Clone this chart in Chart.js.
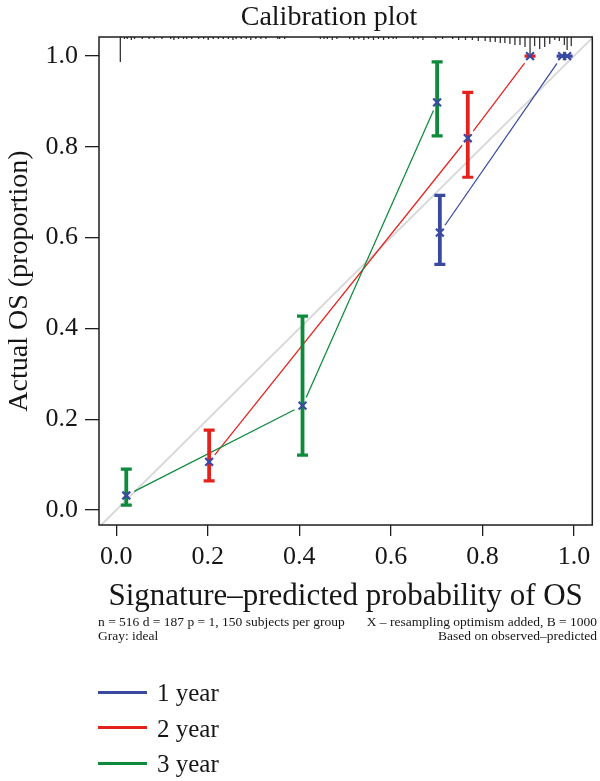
<!DOCTYPE html>
<html>
<head>
<meta charset="utf-8">
<script src="https://cdn.jsdelivr.net/npm/chart.js@4/dist/chart.umd.min.js"></script>
<style>
html,body{margin:0;padding:0;background:#fff;}
#wrap{position:relative;width:600px;height:781px;overflow:hidden;}
#c{position:absolute;left:0;top:0;}
.t{position:absolute;font-family:"Liberation Serif",serif;color:#161616;white-space:nowrap;line-height:1;}
.sw{position:absolute;left:98px;width:49px;height:3px;}
</style>
</head>
<body>
<div id="wrap">
<canvas id="c" width="600" height="781"></canvas>
<div class="t" id="title" style="font-size:28px;left:0;width:658px;text-align:center;top:1.5px;">Calibration plot</div>
<div class="t" style="font-size:13.5px;left:98px;top:615px;">n = 516 d = 187 p = 1, 150 subjects per group</div>
<div class="t" style="font-size:13.5px;right:3px;top:615px;">X – resampling optimism added, B = 1000</div>
<div class="t" style="font-size:13.5px;left:98px;top:629px;">Gray: ideal</div>
<div class="t" style="font-size:13.5px;right:3px;top:629px;">Based on observed–predicted</div>
<div id="legend"></div>
</div>
<script>
// ---- data ----
const seriesNames = ['1 year', '2 year', '3 year'];
const seriesColors = ['#3a49a0', '#e4221d', '#0d8a3b'];
const markerColor = '#3a49a3';

const pred1Year = [0.707, 0.974, 0.985];
const obs1Year  = [0.611, 1.000, 1.000];
const lo1Year   = [0.541, 1.000, 1.000];
const hi1Year   = [0.693, 1.000, 1.000];

const pred2Year = [0.203, 0.768, 0.904];
const obs2Year  = [0.106, 0.819, 1.000];
const lo2Year   = [0.064, 0.733, 1.000];
const hi2Year   = [0.176, 0.920, 1.000];

const pred3Year = [0.022, 0.407, 0.701];
const obs3Year  = [0.032, 0.230, 0.898];
const lo3Year   = [0.011, 0.121, 0.824];
const hi3Year   = [0.090, 0.427, 0.987];

const xTickValues = [0, 0.2, 0.4, 0.6, 0.8, 1.0];
const xTickLabels = ['0.0', '0.2', '0.4', '0.6', '0.8', '1.0'];
const yTickValues = [0, 0.2, 0.4, 0.6, 0.8, 1.0];
const yTickLabels = ['0.0', '0.2', '0.4', '0.6', '0.8', '1.0'];

// distribution of predicted probabilities (rug at top)
const rugX = [0.009,0.018,0.024,0.033,0.040,0.057,0.072,0.083,0.100,0.119,0.126,0.136,0.147,0.154,0.165,0.180,0.191,0.201,0.212,0.223,0.234,0.245,0.255,0.262,0.273,0.284,0.294,0.305,0.316,0.327,
  0.353,0.357,0.368,0.446,0.454,0.461,0.472,0.482,0.510,0.519,0.530,0.541,0.551,0.562,0.573,0.584,0.595,0.605,0.612,0.649,0.659,0.670,
  0.698,0.713,0.735,0.748,0.763,0.778,0.791,0.806,0.817,0.828,0.839,0.849,0.860,0.871,0.882,0.893,0.904,0.914,0.925,0.936,0.947,0.958,0.968,0.979,0.985,0.994];
const rugCounts = [25,2,2,3,2,2,2,2,2,2,3,2,2,2,2,2,2,3,2,2,2,2,3,2,2,2,3,2,2,2,
  2,2,2,2,2,2,3,2,2,3,2,3,2,3,2,3,2,2,2,2,2,3,
  2,2,2,3,3,3,4,4,5,5,6,6,7,8,8,10,17,9,12,10,7,3,4,8,13,9];

const idealX = [-0.1, 1.1];

// ---- build ----
const FONT = '"Liberation Serif", "Times New Roman", serif';
const series = [
  {pred: pred1Year, obs: obs1Year, lo: lo1Year, hi: hi1Year},
  {pred: pred2Year, obs: obs2Year, lo: lo2Year, hi: hi2Year},
  {pred: pred3Year, obs: obs3Year, lo: lo3Year, hi: hi3Year}
].map((s, i) => Object.assign(s, {name: seriesNames[i], color: seriesColors[i]}));

// legend (HTML)
const legBase = [701, 736.5, 772];
const legLine = [692.3, 727.3, 763.3];
const legEl = document.getElementById('legend');
series.forEach((s, i) => {
  const sw = document.createElement('div');
  sw.className = 'sw';
  sw.style.top = (legLine[i] - 1.5) + 'px';
  sw.style.background = s.color;
  legEl.appendChild(sw);
  const tx = document.createElement('div');
  tx.className = 't';
  tx.style.fontSize = '25px';
  tx.style.left = '157px';
  tx.style.top = (legBase[i] - 0.8375 * 25) + 'px';
  tx.textContent = s.name;
  legEl.appendChild(tx);
});

const RUG_UNIT = 1;
const GAP = 9;

const calPlugin = {
  id: 'cal',
  afterDatasetDraw(chart, args) {
    if (args.index !== 0) return;
    const {ctx, chartArea: a, scales: {x, y}} = chart;
    ctx.save();
    // rug
    ctx.strokeStyle = '#333333';
    ctx.lineWidth = 1.3;
    rugX.forEach((v, i) => {
      const px = x.getPixelForValue(v);
      ctx.beginPath();
      ctx.moveTo(px, a.top);
      ctx.lineTo(px, a.top + rugCounts[i] * RUG_UNIT);
      ctx.stroke();
    });
    // connecting lines with gaps around points
    series.forEach(s => {
      ctx.strokeStyle = s.color;
      ctx.lineWidth = 1.25;
      for (let i = 0; i < s.pred.length - 1; i++) {
        const x0 = x.getPixelForValue(s.pred[i]), y0 = y.getPixelForValue(s.obs[i]);
        const x1 = x.getPixelForValue(s.pred[i + 1]), y1 = y.getPixelForValue(s.obs[i + 1]);
        const dx = x1 - x0, dy = y1 - y0, len = Math.hypot(dx, dy);
        if (len <= 2 * GAP + 1) continue;
        const ux = dx / len, uy = dy / len;
        ctx.beginPath();
        ctx.moveTo(x0 + ux * GAP, y0 + uy * GAP);
        ctx.lineTo(x1 - ux * GAP, y1 - uy * GAP);
        ctx.stroke();
      }
    });
    // error bars
    series.forEach(s => {
      ctx.strokeStyle = s.color;
      s.pred.forEach((p, i) => {
        const px = x.getPixelForValue(p);
        const yl = y.getPixelForValue(s.lo[i]), yh = y.getPixelForValue(s.hi[i]);
        ctx.lineWidth = 3.8;
        ctx.beginPath();
        ctx.moveTo(px, yl); ctx.lineTo(px, yh);
        ctx.stroke();
        ctx.lineWidth = 3.2;
        ctx.beginPath();
        ctx.moveTo(px - 5.5, yl); ctx.lineTo(px + 5.5, yl);
        ctx.moveTo(px - 5.5, yh); ctx.lineTo(px + 5.5, yh);
        ctx.stroke();
      });
    });
    ctx.restore();
  },
  afterDraw(chart) {
    const {ctx, chartArea: a} = chart;
    ctx.save();
    ctx.strokeStyle = '#1e1e1e';
    ctx.lineWidth = 1.5;
    ctx.strokeRect(a.left, a.top, a.right - a.left, a.bottom - a.top);
    ctx.restore();
  }
};

const datasets = [{
  type: 'line',
  data: idealX.map(v => ({x: v, y: v})),
  borderColor: '#d9d9d9',
  borderWidth: 2,
  pointRadius: 0,
  order: 10
}].concat(series.map((s, k) => ({
  type: 'scatter',
  label: s.name,
  data: s.pred.map((p, i) => ({x: p, y: s.obs[i]})),
  pointStyle: 'crossRot',
  pointRadius: 5.5,
  borderColor: markerColor,
  backgroundColor: markerColor,
  pointBorderWidth: 2.2,
  borderWidth: 2.2,
  showLine: false,
  order: 3 - k
})));

new Chart(document.getElementById('c'), {
  data: {datasets},
  options: {
    responsive: false,
    animation: false,
    devicePixelRatio: 1,
    layout: {padding: {top: 37, right: 2, bottom: 166, left: 0}},
    plugins: {legend: {display: false}, tooltip: {enabled: false}, title: {display: false}},
    scales: {
      x: {
        type: 'linear', position: 'bottom',
        min: -0.0376, max: 1.04,
        afterBuildTicks: s => { s.ticks = xTickValues.map(v => ({value: v})); },
        afterFit: s => { s.height = 90; },
        ticks: {callback: (v, i) => xTickLabels[i], font: {family: FONT, size: 26}, color: '#161616', padding: 6, maxRotation: 0, autoSkip: false},
        grid: {display: true, drawOnChartArea: false, drawTicks: true, tickLength: 11, color: '#1e1e1e', lineWidth: 1.3},
        border: {display: false},
        title: {display: true, text: 'Signature–predicted probability of OS', font: {family: FONT, size: 31}, color: '#161616', padding: {top: 0, bottom: 0}}
      },
      y: {
        type: 'linear', position: 'left',
        min: -0.033, max: 1.042,
        afterBuildTicks: s => { s.ticks = yTickValues.map(v => ({value: v})); },
        afterFit: s => { s.width = 99; },
        ticks: {callback: (v, i) => yTickLabels[i], font: {family: FONT, size: 26}, color: '#161616', padding: 7, autoSkip: false},
        grid: {display: true, drawOnChartArea: false, drawTicks: true, tickLength: 14, color: '#1e1e1e', lineWidth: 1.3},
        border: {display: false},
        title: {display: true, text: 'Actual OS (proportion)', font: {family: FONT, size: 28}, color: '#161616', padding: {top: 2.7, bottom: 0}}
      }
    }
  },
  plugins: [calPlugin]
});
</script>
</body>
</html>
